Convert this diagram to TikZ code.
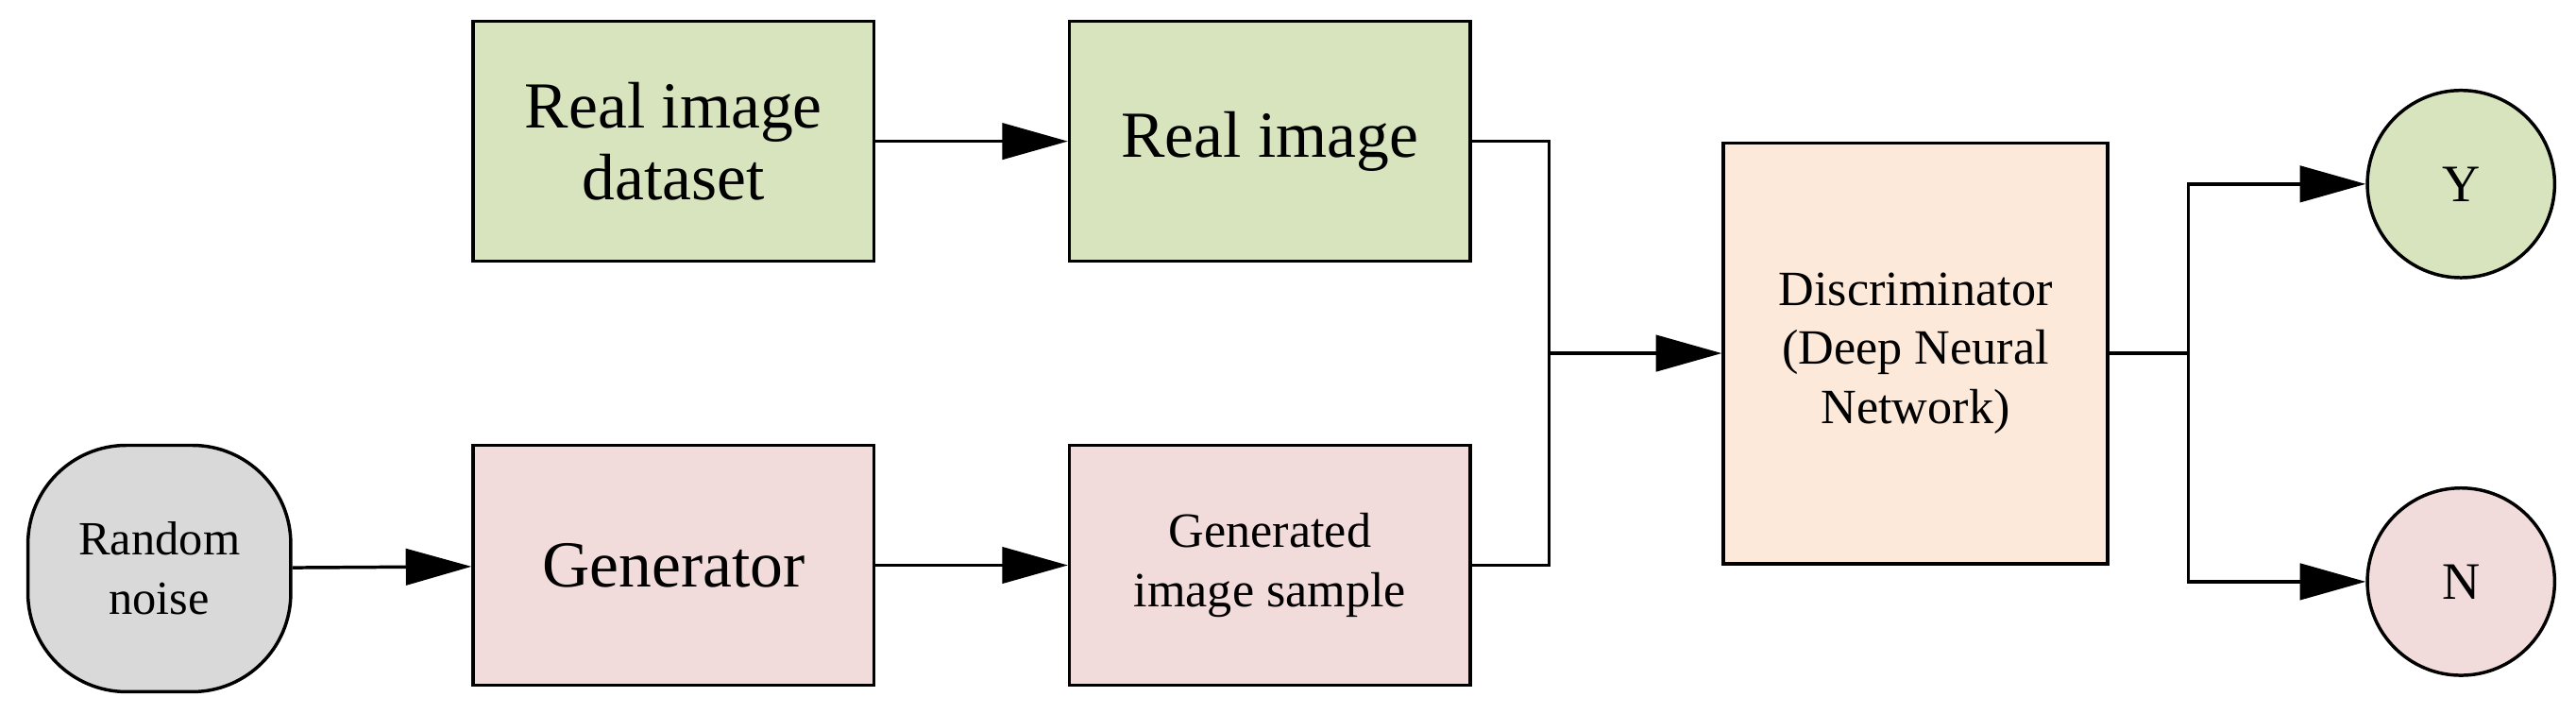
\documentclass[tikz,border=0pt]{standalone}
\usepackage{fontspec}
\setmainfont{Liberation Serif}
\usetikzlibrary{arrows.meta}
\definecolor{gr}{HTML}{D7E4BD}
\definecolor{pk}{HTML}{F2DCDB}
\definecolor{pc}{HTML}{FCE9DA}
\definecolor{gy}{HTML}{D9D9D9}
\tikzset{
 box/.style={draw,line width=2pt,inner sep=0pt,align=center},
 conn/.style={line width=2pt,-{Triangle[length=40pt,width=22pt]}},
 ln/.style={line width=2pt},
}
\begin{document}
\begin{tikzpicture}[x=1pt,y=-1pt]
\useasboundingbox (0,0) rectangle (1568,434);
\node[box,fill=gr,minimum width=244pt,minimum height=146pt,font=\fontsize{40}{44}\selectfont] (ds) at (410,86) {Real image\\dataset};
\node[box,fill=gr,minimum width=244pt,minimum height=146pt,font=\fontsize{40}{44}\selectfont] (ri) at (773,86) {Real image};
\node[box,fill=gy,minimum width=160pt,minimum height=150pt,rounded corners=60pt,font=\fontsize{29}{36}\selectfont] (rn) at (97,346) {Random\\noise};
\node[box,fill=pk,minimum width=244pt,minimum height=146pt,font=\fontsize{40}{44}\selectfont] (gen) at (410,344) {Generator};
\node[box,fill=pk,minimum width=244pt,minimum height=146pt,font=\fontsize{30}{36}\selectfont] (gs) at (773,344) {Generated\\image sample};
\node[box,fill=pc,minimum width=234pt,minimum height=256pt,font=\fontsize{30}{36}\selectfont] (dis) at (1166,215) {Discriminator\\(Deep Neural\\Network)};
\node[box,circle,fill=gr,minimum size=114pt,font=\fontsize{32}{36}\selectfont] (y) at (1498,112) {Y};
\node[box,circle,fill=pk,minimum size=114pt,font=\fontsize{32}{36}\selectfont] (n) at (1498,354) {N};
\coordinate (j1) at (943,215);
\coordinate (j2) at (1332,215);
\draw[conn] (ds) -- (ri);
\draw[conn] (rn) -- (gen);
\draw[conn] (gen) -- (gs);
\draw[ln] (ri.east) -| (j1);
\draw[ln] (gs.east) -| (j1);
\draw[conn] (j1) -- (dis);
\draw[ln] (dis) -- (j2);
\draw[conn] (j2) |- (y);
\draw[conn] (j2) |- (n);
\end{tikzpicture}
\end{document}
